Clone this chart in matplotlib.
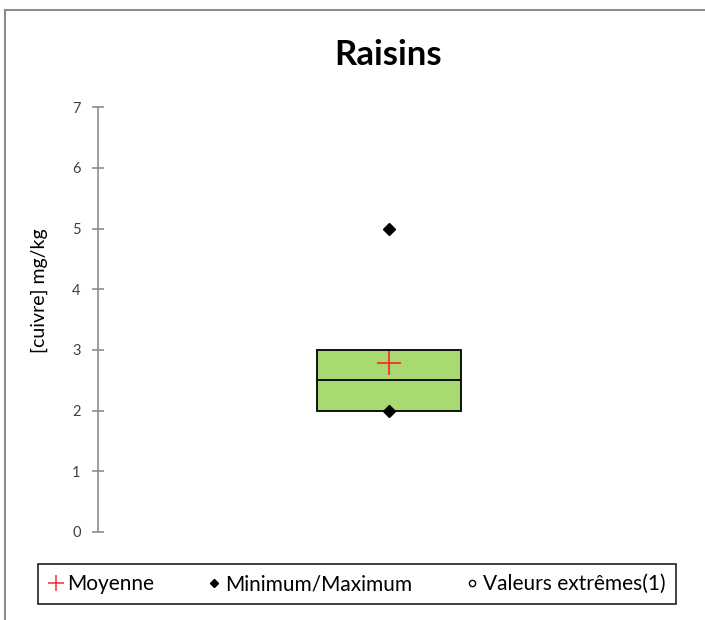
import numpy as np
import matplotlib.pyplot as plt
from matplotlib.lines import Line2D

plt.rcParams['font.family'] = ['Lato', 'DejaVu Sans']

# donnees
categories = ["Raisins"]
q1 = [2.0]
mediane = [2.5]
q3 = [3.0]
minimum = [2.0]
maximum = [5.0]
moyenne = [2.78]
yticks = [0, 1, 2, 3, 4, 5, 6, 7]

fig = plt.figure(figsize=(7.05, 6.2), dpi=100)
ax = fig.add_axes([0.139, 0.142, 0.826, 0.685])

x = np.arange(len(categories)) + 0.5
largeur = 0.247

# boite
ax.bar(x, np.array(q3) - np.array(q1), bottom=q1, width=largeur,
       color='#a9d971', edgecolor='black', linewidth=1.3, zorder=2)
ax.hlines(mediane, x - largeur / 2, x + largeur / 2, color='black', linewidth=1.3, zorder=3)

# min / max
ax.plot(x, minimum, 'D', color='black', markersize=6, zorder=4)
ax.plot(x, maximum, 'D', color='black', markersize=6, zorder=4)
# moyenne
ax.plot(x, moyenne, '+', color='#ff2b2b', markersize=17, markeredgewidth=1.3, zorder=5)

ax.set_xlim(0, len(categories))
ax.set_ylim(0, 7)
ax.set_yticks(yticks)
ax.set_xticks([])
for s in ['top', 'right', 'bottom']:
    ax.spines[s].set_visible(False)
ax.spines['left'].set_color('#8c8c8c')
ax.spines['left'].set_linewidth(1.2)
ax.tick_params(axis='y', direction='inout', length=9, width=1.2, color='#8c8c8c',
               labelsize=10.5, labelcolor='#404040', pad=8)
ax.set_ylabel("[cuivre] mg/kg", fontsize=14, va='center')
ax.yaxis.set_label_coords(-0.1, 0.567)

fig.text(0.551, 0.911, "Raisins", ha='center', va='center', fontsize=25, fontweight='bold')

# legende
poignees = [
    Line2D([], [], marker='+', color='#ff2b2b', linestyle='none', markersize=12, markeredgewidth=1.1),
    Line2D([], [], marker='D', color='black', linestyle='none', markersize=4.5),
    Line2D([], [], marker='o', markerfacecolor='white', markeredgecolor='black',
           linestyle='none', markersize=4.5),
]
etiquettes = ["Moyenne", "Minimum/Maximum", "Valeurs extrêmes(1)"]
leg = fig.legend(poignees, etiquettes, loc='center', bbox_to_anchor=(0.507, 0.058), ncol=3,
                 fontsize=15, frameon=True, fancybox=False, handlelength=0.7,
                 handletextpad=0.2, columnspacing=2.5, borderpad=0.5)
leg.get_frame().set_edgecolor('black')
leg.get_frame().set_linewidth(1.3)

# cadre du graphique
fig.add_artist(Line2D([0.0078, 0.0078], [0.0, 0.984], color='#8c8c8c', linewidth=1.5))
fig.add_artist(Line2D([0.0078, 1.0], [0.984, 0.984], color='#8c8c8c', linewidth=1.5))

fig.savefig("out.png", dpi=100)
